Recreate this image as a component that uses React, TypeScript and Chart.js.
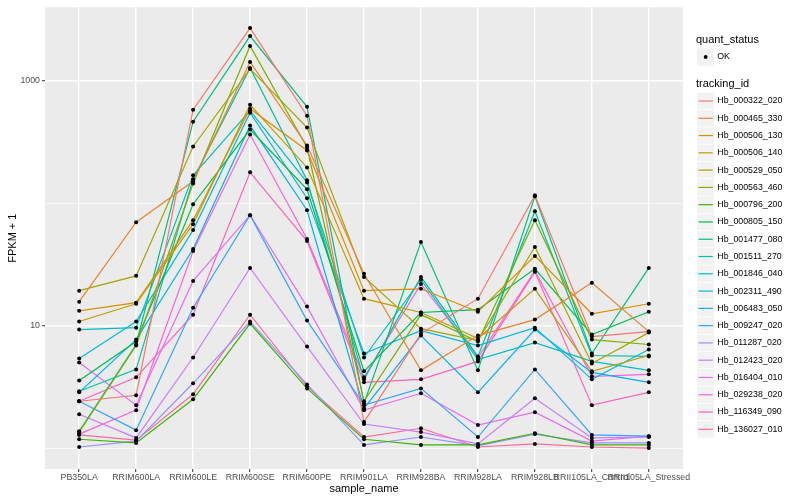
import React, { useEffect, useRef } from "react";
import { Chart, registerables } from "chart.js";

Chart.register(...registerables);

const sampleNames = [
  "PB350LA", "RRIM600LA", "RRIM600LE", "RRIM600SE", "RRIM600PE", "RRIM901LA",
  "RRIM928BA", "RRIM928LA", "RRIM928LB", "RRII105LA_Control", "RRII105LA_Stressed",
];

const trackingIds = [
  "Hb_000322_020", "Hb_000465_330", "Hb_000506_130", "Hb_000506_140", "Hb_000529_050",
  "Hb_000563_460", "Hb_000796_200", "Hb_000805_150", "Hb_001477_080", "Hb_001511_270",
  "Hb_001846_040", "Hb_002311_490", "Hb_006483_050", "Hb_009247_020", "Hb_011287_020",
  "Hb_012423_020", "Hb_016404_010", "Hb_029238_020", "Hb_116349_090", "Hb_136027_010",
];

const seriesColors = [
  "#F8766D", "#EA8331", "#D89000", "#C09B00", "#A3A500", "#7CAE00", "#39B600", "#00BB4E",
  "#00BF7D", "#00C1A3", "#00BFC4", "#00BAE0", "#00B0F6", "#35A2FF", "#9590FF", "#C77CFF",
  "#E76BF3", "#FA62DB", "#FF62BC", "#FF6A98",
];

const yTickValues = [1, 10, 100, 1000];
const yTickLabels = ["", "10", "", "1000"];

// FPKM + 1 values, one array per tracking_id, in sampleNames order
const hb_000322_020 = [2.41, 2.7, 581, 2697, 519, 1.63, 8.61, 16.6, 116, 8.14, 8.94];
const hb_000465_330 = [15.7, 70.0, 151, 1427, 296, 26.5, 4.31, 8.29, 11.2, 22.4, 8.94];
const hb_000506_130 = [13.2, 15.4, 72.7, 592, 270, 19.3, 20.0, 13.0, 37.1, 12.5, 15.1];
const hb_000506_140 = [10.8, 15.1, 67.5, 638, 196, 16.6, 12.8, 7.84, 20.0, 4.23, 5.7];
const hb_000529_050 = [19.3, 25.5, 291, 1252, 415, 25.0, 9.45, 7.55, 43.9, 4.91, 8.77];
const hb_000563_460 = [1.35, 6.88, 145, 1926, 285, 2.41, 12.3, 7.41, 72.7, 7.69, 7.01];
const hb_000796_200 = [1.18, 1.1, 2.5, 10.4, 3.07, 1.18, 1.06, 1.06, 1.32, 1.06, 1.06];
const hb_000805_150 = [3.57, 7.41, 98.1, 400, 130, 4.23, 12.8, 13.5, 29.1, 8.45, 13.0];
const hb_001477_080 = [1.37, 7.01, 464, 2322, 614, 2.32, 48.2, 4.31, 114, 5.92, 29.6];
const hb_001511_270 = [2.91, 4.39, 157, 1276, 154, 3.64, 25.0, 5.6, 86.1, 5.7, 5.6];
const hb_001846_040 = [9.28, 9.63, 169, 570, 148, 5.49, 23.7, 5.29, 7.27, 5.1, 4.31];
const hb_002311_490 = [5.39, 10.8, 60.3, 549, 110, 5.92, 9.11, 6.88, 9.63, 3.64, 6.38];
const hb_006483_050 = [2.85, 7.69, 42.3, 431, 87.7, 2.11, 8.29, 2.85, 9.28, 4.15, 3.44];
const hb_009247_020 = [2.41, 1.4, 14.0, 79.9, 11.0, 2.24, 3.07, 1.23, 4.39, 1.28, 1.25];
const hb_011287_020 = [1.02, 1.14, 3.38, 10.8, 3.31, 1.06, 1.23, 1.04, 1.3, 1.1, 1.1];
const hb_012423_020 = [1.89, 1.21, 5.49, 29.6, 6.75, 1.57, 1.35, 1.08, 2.55, 1.21, 1.23];
const hb_016404_010 = [5.0, 2.24, 23.2, 79.9, 14.3, 2.04, 2.8, 1.54, 1.96, 1.14, 1.25];
const hb_029238_020 = [1.3, 2.04, 40.7, 364, 51.0, 3.78, 21.9, 5.49, 28.0, 3.85, 4.0];
const hb_116349_090 = [2.41, 3.78, 12.3, 179, 49.1, 3.44, 3.64, 5.1, 27.5, 2.24, 2.85];
const hb_136027_010 = [1.28, 1.16, 2.75, 12.3, 3.19, 1.23, 1.45, 1.02, 1.08, 1.02, 1.0];

const seriesValues = [
  hb_000322_020, hb_000465_330, hb_000506_130, hb_000506_140, hb_000529_050,
  hb_000563_460, hb_000796_200, hb_000805_150, hb_001477_080, hb_001511_270,
  hb_001846_040, hb_002311_490, hb_006483_050, hb_009247_020, hb_011287_020,
  hb_012423_020, hb_016404_010, hb_029238_020, hb_116349_090, hb_136027_010,
];

const FONT = '"Liberation Sans", Arial, Helvetica, sans-serif';

const ggPlugin = {
  id: "ggStyle",
  beforeDraw(chart: any) {
    const { ctx, chartArea: a } = chart;
    ctx.save();
    ctx.fillStyle = "#FFFFFF";
    ctx.fillRect(0, 0, chart.width, chart.height);
    ctx.fillStyle = "#EBEBEB";
    ctx.fillRect(a.left, a.top, a.right - a.left, a.bottom - a.top);
    ctx.restore();
  },
  afterDraw(chart: any) {
    const { ctx } = chart;
    const lx = 697;
    const ks = 17.28;
    const tx = lx + ks + 3;
    ctx.save();
    ctx.textAlign = "left";
    ctx.textBaseline = "middle";
    ctx.fillStyle = "#000000";
    ctx.font = `11px ${FONT}`;
    ctx.fillText("quant_status", 696, 40);
    const qy = 57;
    ctx.fillStyle = "#F2F2F2";
    ctx.fillRect(lx, qy - ks / 2, ks, ks);
    ctx.fillStyle = "#000000";
    ctx.beginPath();
    ctx.arc(lx + ks / 2, qy, 1.9, 0, Math.PI * 2);
    ctx.fill();
    ctx.font = `8.8px ${FONT}`;
    ctx.fillText("OK", tx, qy);
    ctx.font = `11px ${FONT}`;
    ctx.fillText("tracking_id", 696, 84);
    ctx.font = `8.8px ${FONT}`;
    trackingIds.forEach((id, i) => {
      const cy = 101 + i * ks;
      ctx.fillStyle = "#F2F2F2";
      ctx.fillRect(lx, cy - ks / 2, ks, ks);
      ctx.strokeStyle = "#FFFFFF";
      ctx.lineWidth = 0.6;
      ctx.strokeRect(lx, cy - ks / 2, ks, ks);
      ctx.strokeStyle = seriesColors[i];
      ctx.lineWidth = 1.2;
      ctx.beginPath();
      ctx.moveTo(lx + 1.5, cy);
      ctx.lineTo(lx + ks - 1.5, cy);
      ctx.stroke();
      ctx.fillStyle = "#000000";
      ctx.fillText(id, tx, cy);
    });
    ctx.restore();
  },
};

export default function App() {
  const canvasRef = useRef<HTMLCanvasElement | null>(null);

  useEffect(() => {
    if (!canvasRef.current) return;

    const lineSets = seriesValues.map((vals, i) => ({
      type: "line" as const,
      label: trackingIds[i],
      data: vals.map((v, j) => ({ x: j + 1, y: v })),
      borderColor: seriesColors[i],
      backgroundColor: seriesColors[i],
      borderWidth: 1.2,
      pointRadius: 0,
      tension: 0,
      fill: false,
      order: 2,
    }));

    const pointSet = {
      type: "line" as const,
      label: "OK",
      data: seriesValues.flatMap((vals) => vals.map((v, j) => ({ x: j + 1, y: v }))),
      showLine: false,
      borderColor: "#000000",
      backgroundColor: "#000000",
      pointRadius: 2,
      pointBorderWidth: 0,
      order: 1,
    };

    const chart = new Chart(canvasRef.current, {
      type: "line",
      data: { datasets: [...lineSets, pointSet] as any },
      plugins: [ggPlugin],
      options: {
        animation: false,
        responsive: false,
        events: [],
        layout: { padding: { top: 5, right: 117, left: 0, bottom: 0 } },
        plugins: { legend: { display: false }, tooltip: { enabled: false } },
        scales: {
          x: {
            type: "linear",
            min: 0.4,
            max: 11.6,
            afterFit: (s: any) => {
              s.height = 31;
            },
            afterBuildTicks: (s: any) => {
              s.ticks = sampleNames.map((_, i) => ({ value: i + 1 }));
            },
            ticks: {
              autoSkip: false,
              maxRotation: 0,
              minRotation: 0,
              padding: 0,
              color: "#4D4D4D",
              font: { family: FONT, size: 8.8 },
              callback: (v: any) => sampleNames[Math.round(Number(v)) - 1] ?? "",
            },
            grid: {
              color: "#FFFFFF",
              lineWidth: 1.4,
              tickLength: 3,
              tickColor: "#333333",
              tickWidth: 1,
            },
            border: { display: false },
            title: {
              display: true,
              text: "sample_name",
              color: "#000000",
              font: { family: FONT, size: 11 },
              padding: { top: 0, bottom: 4 },
            },
          },
          y: {
            type: "logarithmic",
            min: 0.674,
            max: 3990,
            afterFit: (s: any) => {
              s.width = 45;
            },
            afterBuildTicks: (s: any) => {
              s.ticks = yTickValues.map((v) => ({ value: v }));
            },
            ticks: {
              padding: 2,
              color: "#4D4D4D",
              font: { family: FONT, size: 8.8 },
              callback: (v: any) => {
                const k = yTickValues.indexOf(Number(v));
                return k >= 0 ? yTickLabels[k] : "";
              },
            },
            grid: {
              color: "#FFFFFF",
              lineWidth: (c: any) => (yTickLabels[c.index] ? 1.4 : 0.7),
              tickLength: 3,
              tickColor: (c: any) => (yTickLabels[c.index] ? "#333333" : "rgba(0,0,0,0)"),
              tickWidth: 1,
            },
            border: { display: false },
            title: {
              display: true,
              text: "FPKM + 1",
              color: "#000000",
              font: { family: FONT, size: 11 },
              padding: { top: 6, bottom: 0 },
            },
          },
        },
      } as any,
    });

    return () => chart.destroy();
  }, []);

  return (
    <div style={{ position: "absolute", left: 0, top: 0, width: 800, height: 500, background: "#fff" }}>
      <canvas ref={canvasRef} width={800} height={500} style={{ width: 800, height: 500, display: "block" }} />
    </div>
  );
}
